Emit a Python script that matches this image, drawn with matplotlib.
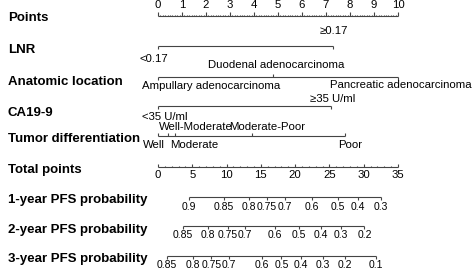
import matplotlib
matplotlib.use("Agg")
import matplotlib.pyplot as plt
import numpy as np

plt.rcParams['font.family'] = ['Liberation Sans', 'DejaVu Sans']

# ---- data (points scale 0-10) ----
points_ticks = list(range(0, 11))

lnr_levels = ['<0.17', '\u22650.17']
lnr_points = [0, 7.3]

anat_levels = ['Ampullary adenocarcinoma', 'Duodenal adenocarcinoma', 'Pancreatic adenocarcinoma']
anat_points = [0, 4.8, 10]

ca199_levels = ['<35 U/ml', '\u226535 U/ml']
ca199_points = [0, 7.2]

tumor_levels = ['Well', 'Well-Moderate', 'Moderate', 'Moderate-Poor', 'Poor']
tumor_points = [0, 0.4, 0.7, 3.9, 7.8]

total_ticks = [0, 5, 10, 15, 20, 25, 30, 35]
total_max = 35

pfs1_probs = [0.9, 0.85, 0.8, 0.75, 0.7, 0.6, 0.5, 0.4, 0.3]
pfs1_total = [4.5, 9.6, 13.2, 15.9, 18.5, 22.5, 26.2, 29.2, 32.5]
pfs2_probs = [0.85, 0.8, 0.75, 0.7, 0.6, 0.5, 0.4, 0.3, 0.2]
pfs2_total = [3.6, 7.3, 10.2, 12.7, 17.0, 20.5, 23.7, 26.7, 30.1]
pfs3_probs = [0.85, 0.8, 0.75, 0.7, 0.6, 0.5, 0.4, 0.3, 0.2, 0.1]
pfs3_total = [1.3, 5.1, 7.8, 10.3, 15.1, 18.0, 20.8, 24.1, 27.3, 31.8]

titles = ['Points', 'LNR', 'Anatomic location', 'CA19-9', 'Tumor differentiation',
          'Total points', '1-year PFS probability', '2-year PFS probability',
          '3-year PFS probability']

# ---- layout ----
fig = plt.figure(figsize=(4.72, 2.72), dpi=100)
ax = fig.add_axes([0, 0, 1, 1])
ax.set_xlim(-158 / 24.0, (472 - 158) / 24.0)   # x in points units
ax.set_ylim(272, 0)                             # y in pixel rows
ax.axis('off')

LC = '#444444'
LW = 0.8
TFS = 8.2
PFS = 7.5
px = 1 / 24.0  # one pixel in points units

title_y = [21, 53, 85, 116, 141.5, 172.5, 203, 233, 262]
for t, y in zip(titles, title_y):
    ax.text(-150 * px, y, t, fontsize=9.5, fontweight='bold', va='baseline', ha='left')


def hline(y, x0, x1):
    ax.plot([x0, x1], [y, y], color=LC, lw=LW, solid_capstyle='butt')


def ticks(xs, y, length):
    for x in xs:
        ax.plot([x, x], [y, y + length], color=LC, lw=LW, solid_capstyle='butt')


# Points
y = 16
hline(y, 0, 10)
ticks(points_ticks, y, -4)
ticks([v / 10 for v in range(0, 101) if v % 10], y, -1.5)
for p in points_ticks:
    ax.text(p, 7.5, str(p), fontsize=TFS, ha='center', va='baseline')

# LNR
y = 45.5
hline(y, lnr_points[0], lnr_points[-1])
ticks(lnr_points, y, 3)
ax.text(lnr_points[0] - 4 * px, 62, lnr_levels[0], fontsize=TFS, ha='center', va='baseline')
ax.text(lnr_points[1] + 1 * px, 34, lnr_levels[1], fontsize=TFS, ha='center', va='baseline')

# Anatomic location
y = 76.5
hline(y, anat_points[0], anat_points[-1])
ticks([anat_points[0], anat_points[2]], y, 3)
ticks([anat_points[1]], y, -3)
ax.text(anat_points[0] - 16 * px, 89, anat_levels[0], fontsize=TFS, ha='left', va='baseline')
ax.text(anat_points[1] + 3 * px, 68.5, anat_levels[1], fontsize=TFS, ha='center', va='baseline')
ax.text(anat_points[2] + 3 * px, 88, anat_levels[2], fontsize=TFS, ha='center', va='baseline')

# CA19-9
y = 106
hline(y, ca199_points[0], ca199_points[-1])
ticks(ca199_points, y, 3)
ax.text(ca199_points[0] - 16 * px, 120, ca199_levels[0], fontsize=TFS, ha='left', va='baseline')
ax.text(ca199_points[1] + 2 * px, 102, ca199_levels[1], fontsize=TFS, ha='center', va='baseline')

# Tumor differentiation
y = 135.5
hline(y, tumor_points[0], tumor_points[-1])
ticks(tumor_points, y, -3)
ax.text(tumor_points[0] - 15 * px, 148.5, tumor_levels[0], fontsize=TFS, ha='left', va='baseline')
ax.text(tumor_points[1] - 9 * px, 129.5, tumor_levels[1], fontsize=TFS, ha='left', va='baseline')
ax.text(tumor_points[2] - 5 * px, 148.5, tumor_levels[2], fontsize=TFS, ha='left', va='baseline')
ax.text(tumor_points[3] - 22 * px, 129.5, tumor_levels[3], fontsize=TFS, ha='left', va='baseline')
ax.text(tumor_points[4] + 5 * px, 148.5, tumor_levels[4], fontsize=TFS, ha='center', va='baseline')

# Total points
scale = 10.0 / total_max
y = 167
hline(y, 0, total_max * scale)
ticks([t * scale for t in total_ticks], y, -3)
ticks([t * scale for t in range(total_max + 1) if t % 5], y, -1.5)
for t in total_ticks:
    ax.text(t * scale, 178, str(t), fontsize=TFS, ha='center', va='baseline')

# PFS probability axes
for probs, tot, y in [(pfs1_probs, pfs1_total, 197),
                      (pfs2_probs, pfs2_total, 226),
                      (pfs3_probs, pfs3_total, 256)]:
    xs = [t * scale for t in tot]
    hline(y, xs[0], xs[-1])
    ticks(xs, y, 3)
    for x, p in zip(xs, probs):
        ax.text(x, y + 12.5, ('%g' % p), fontsize=PFS, ha='center', va='baseline')

fig.savefig('out.png', dpi=100)
